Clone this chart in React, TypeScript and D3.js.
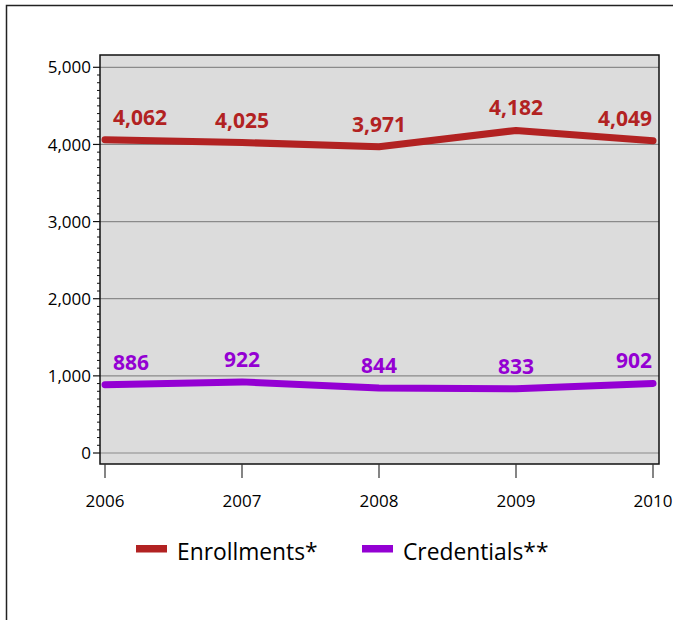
import React from "react";
import * as d3 from "d3";

const years = ["2006", "2007", "2008", "2009", "2010"];
const enrollments = [4062, 4025, 3971, 4182, 4049];
const credentials = [886, 922, 844, 833, 902];
const yTicks = [0, 1000, 2000, 3000, 4000, 5000];
const seriesNames = ["Enrollments*", "Credentials**"];
const seriesColors = ["#b22222", "#9400d3"];

const W = 673;
const H = 620;
const plot = { left: 100, top: 55, right: 659, bottom: 464 };

export default function App() {
  const x = d3.scalePoint<string>().domain(years).range([105, 653]);
  const y = d3.scaleLinear().domain([0, 5000]).range([453, 67.3]);
  const minor = d3.range(0, 5001, 100).filter((v) => v % 1000 !== 0);
  const line = d3
    .line<number>()
    .x((_, i) => x(years[i]) as number)
    .y((d) => y(d));
  const fmt = d3.format(",");
  const series = [enrollments, credentials];
  const font = "'Open Sans', sans-serif";

  return (
    <svg
      width={W}
      height={H}
      style={{ position: "absolute", left: 0, top: 0, background: "#fff", overflow: "hidden" }}
      fontFamily={font}
    >
      <path d={`M6.5,${H}V5.5H${W}`} fill="none" stroke="#222" strokeWidth={1.5} />
      <rect
        x={plot.left}
        y={plot.top}
        width={plot.right - plot.left}
        height={plot.bottom - plot.top}
        fill="#dcdcdc"
      />
      {yTicks.map((t) => (
        <line key={"g" + t} x1={plot.left} x2={plot.right} y1={y(t)} y2={y(t)} stroke="#8a8a8a" strokeWidth={1.2} />
      ))}
      <rect
        x={plot.left}
        y={plot.top}
        width={plot.right - plot.left}
        height={plot.bottom - plot.top}
        fill="none"
        stroke="#111"
        strokeWidth={1.5}
      />
      {minor.map((t) => (
        <line key={"m" + t} x1={plot.left - 3} x2={plot.left} y1={y(t)} y2={y(t)} stroke="#111" strokeWidth={1} />
      ))}
      {yTicks.map((t) => (
        <g key={"t" + t}>
          <line x1={plot.left - 7} x2={plot.left} y1={y(t)} y2={y(t)} stroke="#111" strokeWidth={1.2} />
          <text x={plot.left - 9} y={y(t)} dy="0.36em" textAnchor="end" fontSize={17} fill="#000">
            {fmt(t)}
          </text>
        </g>
      ))}
      {years.map((yr) => (
        <g key={"x" + yr}>
          <line x1={x(yr)} x2={x(yr)} y1={plot.bottom} y2={plot.bottom + 14} stroke="#333" strokeWidth={1.2} />
          <text x={x(yr)} y={507} textAnchor="middle" fontSize={17} fill="#000">
            {yr}
          </text>
        </g>
      ))}
      {series.map((s, si) => (
        <path
          key={"l" + si}
          d={line(s) || ""}
          fill="none"
          stroke={seriesColors[si]}
          strokeWidth={7}
          strokeLinecap="round"
          strokeLinejoin="round"
        />
      ))}
      {series.map((s, si) =>
        s.map((v, i) => {
          const px = x(years[i]) as number;
          const anchor = i === 0 ? "start" : i === years.length - 1 ? "end" : "middle";
          const lx = i === 0 ? px + 8 : i === years.length - 1 ? px - 1 : px;
          return (
            <text
              key={"v" + si + i}
              x={lx}
              y={y(v) - 15}
              textAnchor={anchor}
              fontSize={21}
              fontWeight="bold"
              fill={seriesColors[si]}
            >
              {fmt(v)}
            </text>
          );
        })
      )}
      {seriesNames.map((n, i) => {
        const sx = i === 0 ? 136 : 362;
        return (
          <g key={"lg" + i}>
            <rect x={sx} y={545} width={31} height={7.5} fill={seriesColors[i]} />
            <text x={sx + 41} y={560} fontSize={22.8} fill="#000">
              {n}
            </text>
          </g>
        );
      })}
    </svg>
  );
}
